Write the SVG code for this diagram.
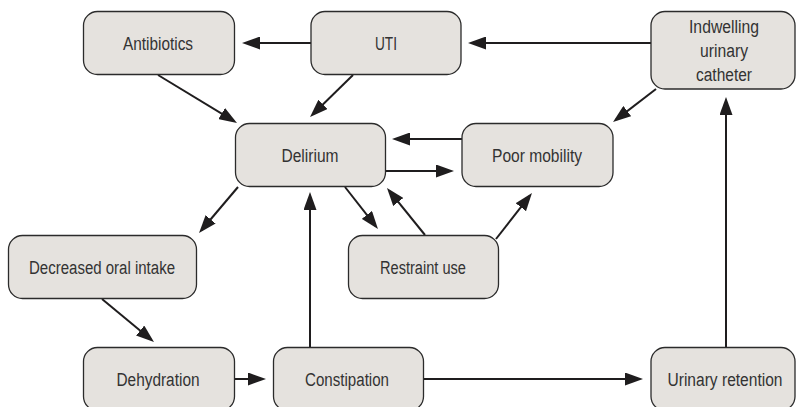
<svg xmlns="http://www.w3.org/2000/svg" width="796" height="407" viewBox="0 0 796 407">
  <style>
    .box { fill: #e5e2de; stroke: #2b2b2b; stroke-width: 1.3; }
    .lbl { font-family: "Liberation Sans", Arial, sans-serif; font-size: 18px; fill: #333333; text-anchor: middle; }
    .edge { stroke: #1f1d1e; stroke-width: 2; fill: none; marker-end: url(#head); }
  </style>
  <defs>
    <marker id="head" markerUnits="userSpaceOnUse" viewBox="0 0 18 13" markerWidth="18" markerHeight="13" refX="14" refY="6.5" orient="auto">
      <path d="M0,0 L18,6.5 L0,13 Z" fill="#1f1d1e"/>
    </marker>
  </defs>
  <rect width="796" height="407" fill="#ffffff"/>

  <g id="connectors">
    <line class="edge" x1="311" y1="43" x2="246" y2="43"/>
    <line class="edge" x1="651" y1="43" x2="472" y2="43"/>
    <line class="edge" x1="158" y1="75" x2="233.6" y2="120.9"/>
    <line class="edge" x1="353" y1="75" x2="312.9" y2="114.2"/>
    <line class="edge" x1="656" y1="89" x2="616.2" y2="119.6"/>
    <line class="edge" x1="462" y1="139" x2="396" y2="139"/>
    <line class="edge" x1="386" y1="171" x2="450" y2="171"/>
    <line class="edge" x1="238" y1="187" x2="201.6" y2="230"/>
    <line class="edge" x1="345" y1="187" x2="375.5" y2="225.9"/>
    <line class="edge" x1="425" y1="235" x2="389.5" y2="191.1"/>
    <line class="edge" x1="496" y1="239" x2="529.5" y2="196.2"/>
    <line class="edge" x1="310" y1="347" x2="310" y2="196"/>
    <line class="edge" x1="102" y1="299" x2="150.9" y2="339.5"/>
    <line class="edge" x1="235" y1="379" x2="262" y2="379"/>
    <line class="edge" x1="424" y1="379" x2="639" y2="379"/>
    <line class="edge" x1="726" y1="347" x2="726" y2="101"/>
  </g>

  <g id="antibiotics">
    <rect class="box" x="83.5" y="11.5" width="151" height="63" rx="14"/>
    <text class="lbl" x="158" y="50" textLength="70" lengthAdjust="spacingAndGlyphs">Antibiotics</text>
  </g>
  <g id="uti">
    <rect class="box" x="311" y="11.5" width="150" height="63" rx="14"/>
    <text class="lbl" x="386" y="50" textLength="22" lengthAdjust="spacingAndGlyphs">UTI</text>
  </g>
  <g id="catheter">
    <rect class="box" x="651" y="11.5" width="144" height="77.5" rx="14"/>
    <text class="lbl" x="724" y="33" textLength="70" lengthAdjust="spacingAndGlyphs">Indwelling</text>
    <text class="lbl" x="724" y="57" textLength="48" lengthAdjust="spacingAndGlyphs">urinary</text>
    <text class="lbl" x="724" y="81" textLength="56" lengthAdjust="spacingAndGlyphs">catheter</text>
  </g>
  <g id="delirium">
    <rect class="box" x="235.5" y="123.5" width="150" height="63" rx="14"/>
    <text class="lbl" x="310" y="162" textLength="57" lengthAdjust="spacingAndGlyphs">Delirium</text>
  </g>
  <g id="poor-mobility">
    <rect class="box" x="462" y="123.5" width="151" height="63" rx="14"/>
    <text class="lbl" x="537" y="162" textLength="90" lengthAdjust="spacingAndGlyphs">Poor mobility</text>
  </g>
  <g id="decreased-oral-intake">
    <rect class="box" x="8.5" y="235.5" width="188" height="63" rx="14"/>
    <text class="lbl" x="102" y="274" textLength="146" lengthAdjust="spacingAndGlyphs">Decreased oral intake</text>
  </g>
  <g id="restraint-use">
    <rect class="box" x="348.5" y="235.5" width="150" height="63" rx="14"/>
    <text class="lbl" x="423" y="274" textLength="86" lengthAdjust="spacingAndGlyphs">Restraint use</text>
  </g>
  <g id="dehydration">
    <rect class="box" x="83.5" y="347.5" width="151" height="63" rx="14"/>
    <text class="lbl" x="158" y="386" textLength="83" lengthAdjust="spacingAndGlyphs">Dehydration</text>
  </g>
  <g id="constipation">
    <rect class="box" x="273.5" y="347.5" width="150" height="63" rx="14"/>
    <text class="lbl" x="347" y="386" textLength="84" lengthAdjust="spacingAndGlyphs">Constipation</text>
  </g>
  <g id="urinary-retention">
    <rect class="box" x="651" y="347.5" width="144" height="63" rx="14"/>
    <text class="lbl" x="725" y="386" textLength="115" lengthAdjust="spacingAndGlyphs">Urinary retention</text>
  </g>
</svg>
